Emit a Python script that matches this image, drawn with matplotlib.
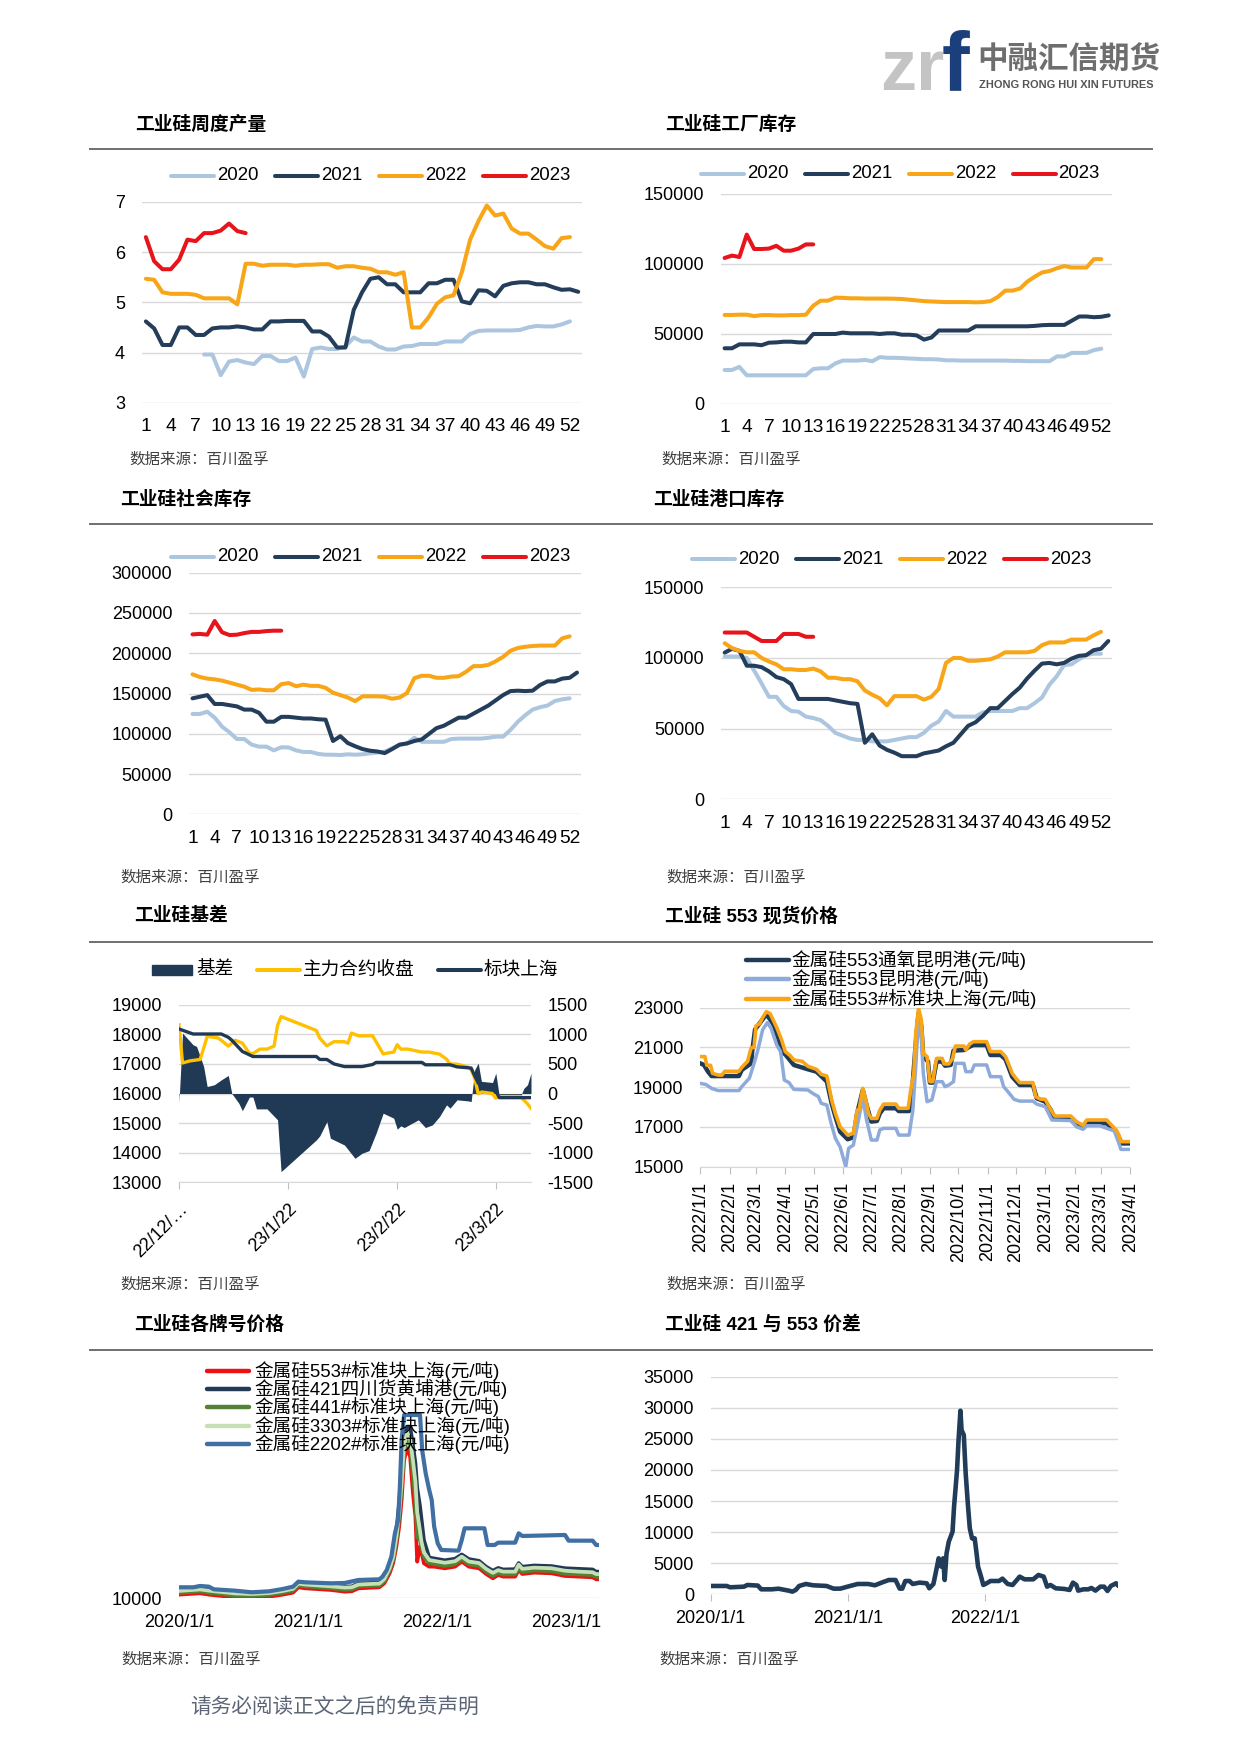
import numpy as np
import pandas as pd
import matplotlib
matplotlib.use("Agg")
import matplotlib.pyplot as plt
from matplotlib.lines import Line2D
from matplotlib.patches import Rectangle

## ---------------- data ----------------
## weekly charts: week number 1..53
weeks = list(range(1, 54))
week_ticks = list(range(1, 53, 3))
week_labels = [str(w) for w in week_ticks]

## 工业硅周度产量 (2020 starts at week 8)
prod_2020 = [3.96, 3.96, 3.55, 3.82, 3.85, 3.80, 3.77, 3.93, 3.93, 3.83,
             3.83, 3.90, 3.52, 4.07, 4.10, 4.07, 4.07, 4.12, 4.30, 4.22,
             4.22, 4.12, 4.06, 4.06, 4.12, 4.13, 4.17, 4.17, 4.17, 4.22,
             4.22, 4.22, 4.37, 4.43, 4.44, 4.44, 4.44, 4.44, 4.45, 4.50,
             4.53, 4.52, 4.52, 4.56, 4.62]
prod_2021 = [4.62, 4.48, 4.15, 4.15, 4.50, 4.50, 4.35, 4.35, 4.48, 4.50,
             4.50, 4.52, 4.50, 4.46, 4.46, 4.62, 4.62, 4.63, 4.63, 4.63,
             4.42, 4.42, 4.32, 4.10, 4.10, 4.85, 5.20, 5.47, 5.50, 5.36,
             5.36, 5.20, 5.20, 5.20, 5.38, 5.38, 5.45, 5.45, 5.02, 4.98,
             5.24, 5.23, 5.12, 5.33, 5.38, 5.40, 5.40, 5.36, 5.36, 5.30,
             5.25, 5.26, 5.21]
prod_2022 = [5.47, 5.45, 5.20, 5.17, 5.17, 5.17, 5.15, 5.08, 5.08, 5.08,
             5.08, 4.96, 5.77, 5.77, 5.73, 5.75, 5.75, 5.75, 5.73, 5.75,
             5.75, 5.76, 5.76, 5.69, 5.72, 5.72, 5.69, 5.67, 5.60, 5.60,
             5.55, 5.60, 4.50, 4.50, 4.70, 4.97, 5.10, 5.14, 5.60, 6.25,
             6.62, 6.93, 6.73, 6.77, 6.47, 6.37, 6.37, 6.25, 6.12, 6.07,
             6.28, 6.30]
prod_2023 = [6.30, 5.82, 5.66, 5.66, 5.85, 6.25, 6.22, 6.38, 6.38, 6.43,
             6.57, 6.42, 6.38]

## 工业硅工厂库存
fac_2020 = [24300, 24300, 26500, 20500, 20500, 20500, 20500, 20500, 20500, 20500,
            20500, 20500, 25000, 25500, 25500, 29000, 31000, 31000, 31000, 31500,
            30500, 33500, 33000, 33000, 32800, 32500, 32300, 32000, 32000, 31800,
            31200, 31200, 31000, 31000, 31000, 31000, 31000, 31000, 31000, 30800,
            30800, 30600, 30600, 30600, 30600, 34000, 34000, 36500, 36500, 36500,
            38500, 39500]
fac_2021 = [39800, 39800, 42600, 42600, 42600, 42000, 43800, 44000, 44500, 44500,
            44000, 44000, 50000, 50000, 50000, 50000, 51000, 50500, 50500, 50500,
            50500, 50000, 50500, 50500, 49500, 49500, 49000, 46000, 47500, 52500,
            52500, 52500, 52500, 52500, 55500, 55500, 55500, 55500, 55500, 55500,
            55500, 55500, 55800, 56300, 56500, 56500, 56500, 59500, 62500, 62500,
            62000, 62300, 63300]
fac_2022 = [63600, 63600, 63800, 63800, 62800, 63500, 63500, 63300, 63300, 63500,
            63500, 63800, 70200, 73800, 73800, 76000, 75800, 75500, 75500, 75300,
            75300, 75300, 75300, 75200, 75000, 74500, 74000, 73500, 73200, 73000,
            72800, 72800, 72800, 72800, 72600, 72800, 73500, 76500, 81000, 81000,
            82500, 87500, 91000, 94000, 95000, 97000, 98500, 97500, 97500, 97500,
            103500, 103500]
fac_2023 = [104300, 106000, 105000, 121000, 110700, 110700, 111000, 113000, 109500,
            109500, 111000, 114000, 114000]

## 工业硅社会库存
soc_2020 = [124600, 124600, 127400, 120000, 108800, 101800, 93500, 93500, 86500, 84000,
            84000, 79400, 83200, 83000, 79400, 77400, 77400, 75000, 74000, 74000,
            73600, 74500, 74000, 74500, 75700, 76600, 77800, 82000, 86000, 88000,
            95000, 90000, 90000, 90000, 90000, 93500, 94000, 94000, 94000, 94000,
            95000, 96400, 96400, 104700, 115000, 123000, 130000, 133000, 135000, 140700,
            142800, 144000]
soc_2021 = [144000, 146000, 148000, 137000, 137000, 135500, 134000, 130000, 130000, 126000,
            115000, 115000, 121000, 121000, 120000, 119000, 119000, 118000, 117500, 91000,
            97000, 88500, 84500, 81000, 79000, 78000, 76000, 81000, 86500, 88000,
            91000, 93000, 100000, 107000, 110000, 115000, 120000, 120000, 125000, 130000,
            135000, 141500, 148000, 153000, 153500, 153000, 153500, 160500, 165000, 165000,
            168500, 169500, 176000]
soc_2022 = [173800, 170500, 168500, 167500, 166000, 163500, 161000, 158500, 154500, 155000,
            154000, 154000, 161500, 163000, 159000, 161000, 159500, 159500, 157000, 151000,
            148000, 145000, 140500, 146500, 146500, 146500, 146000, 143500, 145000, 150500,
            169000, 172000, 172000, 169500, 169500, 171000, 171500, 177000, 184000, 184000,
            185500, 190000, 195500, 203000, 206500, 208000, 209000, 209500, 209500, 209500,
            218500, 221000]
soc_2023 = [223400, 224000, 223000, 240000, 226000, 222600, 223000, 225000, 226500,
            226500, 227500, 228000, 228000]

## 工业硅港口库存
port_2020 = [101000, 101000, 101000, 100000, 91000, 82000, 72500, 72500, 66000, 62500,
             62000, 58500, 57500, 56000, 52000, 47000, 45000, 43000, 42000, 42000,
             41000, 41000, 41000, 42000, 43000, 44000, 44000, 47000, 52000, 55000,
             62500, 58500, 58500, 58500, 58500, 61500, 62500, 62500, 62500, 62500,
             64500, 64500, 68000, 72000, 81000, 87000, 95000, 95500, 99000, 102000,
             103000, 103000]
port_2021 = [103800, 106500, 105000, 94500, 94500, 93500, 90500, 86500, 85000, 81500,
             71000, 71000, 71000, 71000, 71000, 70000, 69000, 68000, 67500, 40000,
             46000, 38000, 35000, 33000, 30500, 30500, 30500, 32500, 33500, 34500,
             37500, 40000, 46000, 52000, 54500, 59000, 64500, 64500, 69500, 74500,
             79000, 85500, 91000, 96000, 96500, 95500, 96500, 99500, 101500, 102000,
             105500, 106500, 112000]
port_2022 = [110400, 107000, 105000, 104000, 104000, 100000, 97500, 95500, 92000, 92000,
             91500, 91500, 92500, 90500, 86000, 86000, 85000, 85000, 83500, 77000,
             74000, 71500, 66500, 73000, 73000, 73000, 73000, 70500, 72500, 78000,
             96500, 100000, 100000, 98000, 98000, 98500, 99000, 101000, 104000, 104000,
             104000, 104000, 105000, 109000, 111000, 111000, 111000, 113000, 113000, 113000,
             116000, 118500]
port_2023 = [118000, 118000, 118000, 118000, 115000, 112000, 112000, 112000, 117000,
             117000, 117000, 115000, 115000]

## 工业硅基差: days after 2022-12-22
basis_start = '2022-12-22'
fut_days = [0, 1, 3, 6, 7, 8, 11, 12, 14, 15, 16, 18, 20, 21, 23, 25, 27, 28, 29, 39,
            40, 42, 44, 47, 48, 49, 51, 55, 58, 61, 62, 63, 65, 67, 69, 71, 74, 76, 77, 79,
            82, 83, 84, 85, 86, 89, 90, 91, 97, 99, 100]
fut_vals = [18320, 17030, 17100, 17150, 17530, 17930, 17880, 17800, 17600, 17700,
            17800, 17700, 17360, 17350, 17500, 17500, 17600, 18300, 18600, 18130,
            17870, 17610, 17750, 17750, 17700, 18040, 17950, 17950, 17340, 17400,
            17650, 17500, 17500, 17450, 17400, 17400, 17330, 17160, 17000, 16990,
            16900, 16800, 16520, 15990, 16050, 16000, 15840, 15900, 15900, 15650, 15500]
spot_days = [0, 4, 12, 14, 15, 18, 21, 39, 40, 42, 44, 47, 52, 55, 56, 69, 70, 77, 79,
             83, 84, 85, 89, 91, 100]
spot_vals = [18180, 18010, 18010, 17900, 17800, 17420, 17250, 17250, 17150, 17150,
             17000, 16910, 16910, 16980, 17050, 17050, 16970, 16970, 16900, 16860,
             16600, 16350, 16300, 15860, 15860]
basis_days = [0, 1, 4, 5, 7, 8, 10, 12, 14, 15, 17, 18, 20, 21, 22, 25, 28, 29, 39, 40,
              42, 43, 47, 50, 52, 54, 56, 58, 61, 62, 63, 64, 68, 70, 72, 74, 76, 77, 79, 82,
              83, 84, 85, 86, 89, 90, 91, 97, 98, 99, 100]
basis_vals = [-150, 1020, 823, 795, 457, 118, 147, 230, 305, 0,
              -165, -290, -60, -60, -260, -260, -445, -1320, -785, -715,
              -475, -755, -870, -1095, -1010, -965, -670, -333, -417, -603,
              -547, -575, -445, -575, -530, -390, -192, -248, -107, -124,
              -135, 400, 513, 175, 175, 344, -50, -50, 90, 147, 344]
basis_ticks = ['2022-12-22', '2023-01-22', '2023-02-22', '2023-03-22']
basis_tick_labels = ['22/12/\u2026', '23/1/22', '23/2/22', '23/3/22']

## 工业硅553现货价格: days after 2022-01-01
p553_start = '2022-01-01'
sh553_days = [0, 5, 7, 11, 13, 19, 23, 26, 41, 44, 50, 54, 57, 59, 63, 66, 70, 74, 77, 81,
              86, 90, 95, 99, 108, 114, 123, 128, 134, 139, 143, 148, 153, 156, 162, 166, 168, 172, 176, 178,
              181, 187, 190, 194, 207, 210, 220, 223, 226, 228, 231, 234, 236, 240, 243, 246, 250, 256, 258, 263,
              267, 270, 279, 281, 285, 289, 303, 307, 318, 323, 327, 330, 334, 338, 352, 355, 360, 365, 370, 375,
              392, 398, 405, 409, 430, 434, 440, 443, 445, 456]
sh553_vals = [20540, 20540, 20100, 20100, 19700, 19610, 19610, 19800, 19800, 20000,
              20300, 20990, 21000, 22080, 22200, 22500, 22800, 22700, 22400, 22000,
              21400, 20790, 20600, 20370, 20300, 20050, 19900, 19650, 19560, 18360,
              17680, 17010, 16760, 16590, 16680, 17850, 17850, 18940, 18190, 17680,
              17430, 17430, 17850, 18150, 18150, 17940, 17940, 18940, 19700, 21700,
              22970, 22380, 20700, 20540, 19280, 19280, 20450, 20450, 20170, 20170,
              20450, 21070, 21070, 20870, 21170, 21290, 21290, 20790, 20790, 20540,
              20070, 19700, 19450, 19230, 19230, 18520, 18400, 18390, 17940, 17550,
              17550, 17270, 17080, 17350, 17350, 17150, 16850, 16590, 16260, 16260]
ox553_days = [0, 4, 8, 12, 41, 44, 54, 55, 58, 70, 77, 83, 86, 90, 99, 114, 123, 128, 134, 139,
              143, 148, 156, 162, 166, 172, 176, 181, 187, 190, 194, 207, 210, 221, 224, 228, 231, 234, 236, 241,
              243, 246, 250, 256, 259, 265, 268, 279, 285, 289, 303, 307, 318, 323, 330, 338, 352, 356, 365, 371,
              375, 392, 398, 405, 409, 430, 440, 446, 456]
ox553_vals = [20200, 20120, 19800, 19560, 19560, 19870, 20200, 20800, 21900, 22670,
              22200, 21400, 20790, 20650, 20120, 19900, 19780, 19560, 19280, 18190,
              17520, 16760, 16380, 16480, 17680, 18860, 18100, 17270, 17300, 17680,
              17940, 17940, 17800, 17800, 18690, 21200, 22720, 22050, 20540, 20290,
              19230, 19230, 20290, 20290, 20080, 20120, 20840, 20870, 21040, 21120,
              21120, 20620, 20620, 20400, 19530, 19110, 19110, 18440, 18270, 17850,
              17430, 17380, 17180, 17010, 17210, 17180, 16760, 16170, 16170]
km553_days = [0, 6, 12, 19, 41, 44, 52, 57, 61, 66, 71, 75, 81, 85, 89, 94, 99, 114, 119, 125,
              128, 134, 138, 143, 148, 154, 157, 162, 166, 172, 176, 181, 187, 190, 194, 207, 210, 221, 225, 228,
              231, 234, 236, 240, 245, 250, 256, 259, 263, 268, 270, 279, 281, 287, 290, 303, 307, 318, 321, 327,
              332, 338, 352, 356, 365, 372, 392, 398, 405, 409, 423, 430, 438, 443, 445, 456]
km553_vals = [19190, 19140, 18940, 18830, 18830, 19030, 19450, 20200, 20870, 21880,
              22250, 21960, 21120, 20790, 19360, 19230, 18890, 18860, 18690, 18530,
              18190, 18100, 17270, 16430, 16000, 15000, 15920, 16090, 17010, 18440,
              17350, 16340, 16340, 16850, 16930, 16930, 16590, 16590, 17850, 20030,
              22470, 21400, 19700, 18270, 18360, 19280, 19280, 19030, 19110, 19280,
              20200, 20200, 19780, 19780, 20120, 20120, 19530, 19530, 19030, 18690,
              18390, 18300, 18300, 18150, 18020, 17350, 17320, 17010, 16880, 17060,
              17060, 16930, 16800, 16170, 15870, 15870]

## 工业硅各牌号价格: days after 2020-01-01
grade_start = '2020-01-01'
grade_days = [0, 60, 85, 158, 206, 255, 294, 323, 338, 357, 430, 469, 489, 508, 567, 581, 596, 606, 615, 623,
              630, 637, 645, 654, 662, 669, 674, 682, 686, 693, 708, 722, 752, 781, 800, 820, 849, 869, 888, 903,
              917, 951, 961, 971, 1005, 1054, 1092, 1131, 1170, 1180, 1188]
si553 = [11200, 11630, 11200, 10330, 10220, 10540, 11200, 11850, 13590, 13260,
         12720, 12170, 12280, 13260, 13590, 14890, 18150, 21410, 26850, 33370,
         42070, 55110, 59000, 56200, 44240, 36630, 21960, 26850, 25220, 21410,
         20330, 20330, 19780, 20330, 21960, 20330, 19780, 17930, 16520, 17610,
         17070, 17070, 19240, 17930, 18370, 18150, 17280, 17070, 16850, 16200, 16200]
si421 = [12700, 13200, 12800, 11900, 11700, 12000, 12700, 13400, 15100, 14800,
         14200, 13800, 13900, 14800, 15200, 16700, 20500, 24500, 32000, 41000,
         52000, 63000, 66000, 66000, 60000, 54000, 46000, 40000, 36000, 29000,
         23300, 23000, 22400, 22900, 24300, 22800, 22200, 20300, 19000, 19900,
         19400, 19500, 21500, 20300, 20700, 20500, 19800, 19600, 19400, 18700, 18700]
si441 = [11800, 12250, 11800, 10900, 10800, 11100, 11800, 12500, 14200, 13900,
         13300, 12800, 12900, 13900, 14200, 15600, 19000, 22500, 28500, 36000,
         46000, 58000, 62000, 60000, 50000, 42000, 30000, 29000, 27000, 23500,
         21500, 21200, 20600, 21100, 22700, 21100, 20600, 18700, 17300, 18300,
         17800, 17800, 19900, 18600, 19100, 18900, 18000, 17800, 17600, 17000, 17000]
si3303 = [12400, 12900, 12500, 11600, 11400, 11700, 12400, 13100, 14800, 14500,
          13900, 13500, 13600, 14500, 14800, 16300, 19800, 23500, 30000, 38000,
          48000, 60000, 64000, 62000, 55000, 48000, 38000, 32000, 28500, 25000,
          22500, 22200, 21600, 22100, 23600, 22000, 21500, 19600, 18300, 19200,
          18700, 18700, 21000, 19600, 20000, 19800, 19000, 18700, 18500, 17900, 17900]
si2202_days = [0, 41, 60, 85, 99, 158, 206, 255, 294, 323, 338, 357, 430, 469, 508, 567, 576, 588, 601, 611,
               620, 625, 630, 637, 682, 688, 698, 708, 715, 722, 732, 742, 791, 800, 808, 864, 873, 893, 903, 951,
               961, 971, 1092, 1102, 1170, 1180, 1188]
si2202 = [13590, 13590, 14020, 13800, 12930, 12500, 11960, 12280, 13040, 13800,
          15430, 15220, 14890, 15000, 15980, 16200, 17070, 19240, 23590, 31200,
          35540, 46410, 61630, 69780, 69780, 58370, 50760, 45330, 42070, 33370,
          27930, 25760, 25540, 29020, 32830, 32830, 27390, 27390, 28150, 28150,
          31200, 30330, 30650, 28800, 28800, 27390, 27390]

## 工业硅421与553价差: days after 2020-01-01
spread_days = [0, 43, 52, 89, 98, 126, 135, 163, 181, 208, 218, 227, 236, 254, 273, 309, 328, 346, 365, 392,
               420, 438, 456, 475, 493, 504, 511, 519, 530, 539, 557, 576, 583, 594, 599, 608, 615, 620, 624, 629,
               635, 645, 649, 657, 661, 666, 669, 675, 680, 686, 691, 697, 704, 709, 713, 721, 727, 736, 746, 769,
               778, 792, 805, 824, 837, 860, 874, 888, 897, 906, 920, 943, 957, 966, 975, 980, 994, 1007, 1015, 1026,
               1039, 1049, 1058, 1067, 1081, 1085]
spread_vals = [1340, 1340, 1125, 1230, 1500, 1400, 800, 800, 900, 590,
               430, 700, 1340, 1660, 1450, 1340, 910, 910, 1230, 1660,
               1660, 1450, 1880, 2300, 2300, 910, 910, 2140, 2140, 1660,
               1880, 1770, 965, 1660, 3110, 5790, 4450, 5790, 2300, 6590,
               8470, 10070, 14090, 19990, 24810, 29530, 26420, 25620, 19450, 14360,
               10610, 9000, 9000, 6590, 4450, 2840, 1500, 1770, 2140, 2140,
               2520, 1660, 1500, 2840, 2410, 2410, 3110, 2840, 1230, 1500,
               965, 860, 700, 1880, 1500, 590, 800, 800, 1020, 590,
               1230, 1230, 540, 1340, 1770, 1500]

## ---------------- style ----------------
W, H = 1241, 1755
plt.rcParams['font.family'] = ['Liberation Sans', 'Noto Sans CJK SC']
plt.rcParams['axes.unicode_minus'] = False
FS = 13.0      # tick labels
LFS = 13.4     # legend text
C20, C21, C22, C23 = '#adc6e0', '#233d5a', '#f8a518', '#e8141c'
NAVY = '#203a55'
GRID = '#d9d9d9'

fig = plt.figure(figsize=(W / 100, H / 100), dpi=100)


def fx(x):
    return x / W


def fy(y):
    return 1 - y / H


def add_ax(x0, y0, x1, y1):
    return fig.add_axes([fx(x0), fy(y1), (x1 - x0) / W, (y1 - y0) / H])


def base_style(ax, grid=True):
    for s in ax.spines.values():
        s.set_visible(False)
    if grid:
        ax.grid(axis='y', color=GRID, lw=1.0)
    ax.set_axisbelow(True)
    ax.tick_params(axis='both', length=0, labelsize=FS)
    ax.tick_params(axis='y', pad=12)
    ax.tick_params(axis='x', pad=11)
    ax.patch.set_alpha(0)


def to_dates(start, days):
    return pd.Timestamp(start) + pd.to_timedelta(np.array(days), unit='D')


def leg_line(x, y, color, label, lw=2.9):
    fig.add_artist(Line2D([fx(x), fx(x + 43)], [fy(y), fy(y)], color=color, lw=lw,
                          solid_capstyle='round', transform=fig.transFigure))
    fig.text(fx(x + 46), fy(y), label, fontsize=LFS, va='center', ha='left')


def title(x, y, s):
    fig.text(fx(x), fy(y), s, fontsize=13.5, fontweight='bold', va='center', ha='left')


def source(x, y):
    fig.text(fx(x), fy(y), '数据来源：百川盈孚', fontsize=11.2, color='#404040',
             va='center', ha='left')


## header logo
fig.text(fx(880), fy(90), 'zr', fontsize=52, fontweight='bold', color='#c4c4c4',
         family='Liberation Sans', va='baseline', ha='left')
fig.text(fx(942), fy(90), 'f', fontsize=60, fontweight='bold', color='#1b3f7a',
         family='Liberation Sans', va='baseline', ha='left')
fig.text(fx(977), fy(60), '中融汇信期货', fontsize=22, fontweight='bold', color='#6e6e6e',
         family='Noto Sans CJK SC', va='center', ha='left')
fig.text(fx(979), fy(85), 'ZHONG RONG HUI XIN FUTURES', fontsize=7.9, fontweight='bold',
         color='#555555', family='Liberation Sans', va='center', ha='left')

## separators
for ys in [149.3, 524.3, 942.3, 1350]:
    fig.add_artist(Line2D([fx(90), fx(1152)], [fy(ys), fy(ys)], color='#707070', lw=1.4,
                          transform=fig.transFigure))


def weekly_chart(rect, series, ylim, yticks, leg_x, leg_y):
    ax = add_ax(*rect)
    base_style(ax)
    for vals, start, c in series:
        ax.plot(weeks[start:start + len(vals)], vals, color=c, lw=2.9,
                solid_joinstyle='round', solid_capstyle='round')
    ax.set_xlim(0.5, 53.5)
    ax.set_ylim(*ylim)
    ax.set_yticks(yticks)
    ax.set_xticks(week_ticks)
    ax.set_xticklabels(week_labels)
    ax.tick_params(axis='x', labelsize=13.8)
    for x, (lab, c) in zip(leg_x, [('2020', C20), ('2021', C21), ('2022', C22), ('2023', C23)]):
        leg_line(x, leg_y, c, lab)
    return ax


## chart 1
title(135, 125, '工业硅周度产量')
weekly_chart((141.7, 202, 582.4, 402.7),
             [(prod_2020, 7, C20), (prod_2021, 0, C21), (prod_2022, 0, C22), (prod_2023, 0, C23)],
             (3, 7), [3, 4, 5, 6, 7], [171, 275, 379, 483], 176)
source(129.6, 459.3)

## chart 2
title(665, 125, '工业硅工厂库存')
weekly_chart((720.9, 194, 1112.4, 404),
             [(fac_2020, 0, C20), (fac_2021, 0, C21), (fac_2022, 0, C22), (fac_2023, 0, C23)],
             (0, 150000), [0, 50000, 100000, 150000], [701, 805, 909, 1012.6], 174)
source(661, 459.3)

## chart 3
title(120.3, 500, '工业硅社会库存')
weekly_chart((188.8, 572.7, 580.7, 814.3),
             [(soc_2020, 0, C20), (soc_2021, 0, C21), (soc_2022, 0, C22), (soc_2023, 0, C23)],
             (0, 300000), list(range(0, 300001, 50000)), [171, 275, 379, 483], 556.7)
source(120, 877.3)

## chart 4
title(652.7, 500, '工业硅港口库存')
weekly_chart((721, 587.3, 1112, 799.3),
             [(port_2020, 0, C20), (port_2021, 0, C21), (port_2022, 0, C22), (port_2023, 0, C23)],
             (0, 150000), [0, 50000, 100000, 150000], [692, 796, 900, 1004], 559)
source(666.5, 877.3)

## chart 5: basis
title(134, 916.7, '工业硅基差')
ax5 = add_ax(179, 1004.7, 531, 1182.3)
ax5r = ax5.twinx()
base_style(ax5, grid=False)
base_style(ax5r)
ax5r.fill_between(to_dates(basis_start, basis_days), 0, basis_vals, color=NAVY, lw=0)
ax5.plot(to_dates(basis_start, fut_days), fut_vals, color='#ffc000', lw=2.4,
         solid_joinstyle='round')
ax5.plot(to_dates(basis_start, spot_days), spot_vals, color=NAVY, lw=2.4,
         solid_joinstyle='round')
ax5.set_zorder(ax5r.get_zorder() + 1)
ax5.patch.set_visible(False)
ax5.set_ylim(13000, 19000)
ax5.set_yticks(range(13000, 19001, 1000))
ax5r.set_ylim(-1500, 1500)
ax5r.set_yticks(range(-1500, 1501, 500))
ax5r.tick_params(axis='y', pad=12)
ax5.set_xlim(pd.Timestamp('2022-12-22'), pd.Timestamp('2023-04-01'))
ax5.set_xticks(pd.to_datetime(basis_ticks))
ax5.set_xticklabels(basis_tick_labels, rotation=45, ha='right', va='top',
                    rotation_mode='anchor')
ax5.tick_params(axis='x', length=5, color='#bfbfbf', pad=8)
ax5.spines['bottom'].set_visible(True)
ax5.spines['bottom'].set_color(GRID)
fig.add_artist(Rectangle((fx(151.7), fy(975)), 40 / W, 10 / H, color=NAVY,
                         transform=fig.transFigure))
fig.text(fx(196.7), fy(970), '基差', fontsize=LFS, va='center', ha='left')
leg_line(257, 970, '#ffc000', '主力合约收盘', lw=2.9)
leg_line(438, 970, NAVY, '标块上海', lw=2.9)
source(120, 1284.3)

## chart 6: 553 spot prices
title(665, 916.7, '工业硅 553 现货价格')
ax6 = add_ax(700.2, 1007.7, 1130.3, 1166.7)
base_style(ax6)
ax6.plot(to_dates(p553_start, ox553_days), ox553_vals, color='#1f3b58', lw=3.2,
         solid_joinstyle='round')
ax6.plot(to_dates(p553_start, km553_days), km553_vals, color='#8eaadb', lw=2.5,
         solid_joinstyle='round')
ax6.plot(to_dates(p553_start, sh553_days), sh553_vals, color='#f8a518', lw=2.6,
         solid_joinstyle='round')
ax6.set_ylim(15000, 23000)
ax6.set_yticks(range(15000, 23001, 2000))
m6 = pd.date_range('2022-01-01', '2023-04-01', freq='MS')
ax6.set_xlim(m6[0], m6[-1])
ax6.set_xticks(m6)
ax6.set_xticklabels([f'{d.year}/{d.month}/1' for d in m6], rotation=90, ha='center', va='top')
ax6.tick_params(axis='x', length=5, color='#bfbfbf', pad=6)
ax6.spines['bottom'].set_visible(True)
ax6.spines['bottom'].set_color(GRID)
leg_line(745.7, 960, '#1f3b58', '金属硅553通氧昆明港(元/吨)', lw=3.2)
leg_line(745.7, 979.3, '#8eaadb', '金属硅553昆明港(元/吨)', lw=3.2)
leg_line(745.7, 999, '#f8a518', '金属硅553#标准块上海(元/吨)', lw=3.2)
source(666.5, 1284.3)

## chart 7: grades
title(134, 1325, '工业硅各牌号价格')
ax7 = add_ax(178.8, 1383.7, 599, 1598.3)
base_style(ax7)
gd = to_dates(grade_start, grade_days)
ax7.plot(gd, si553, color='#ee1111', lw=2.7, solid_joinstyle='round', zorder=2)
ax7.plot(gd, si421, color='#223a54', lw=2.7, solid_joinstyle='round', zorder=3)
ax7.plot(gd, si441, color='#548235', lw=2.7, solid_joinstyle='round', zorder=4)
ax7.plot(gd, si3303, color='#c5e0b4', lw=2.7, solid_joinstyle='round', zorder=5)
ax7.plot(to_dates(grade_start, si2202_days), si2202, color='#3f6fa3', lw=3.0,
         solid_joinstyle='round', zorder=6)
ax7.set_ylim(10000, 80000)
ax7.set_yticks([10000])
ax7.set_xlim(pd.Timestamp('2020-01-01'), pd.Timestamp('2020-01-01') + pd.Timedelta(days=1188))
y7 = pd.to_datetime(['2020-01-01', '2021-01-01', '2022-01-01', '2023-01-01'])
ax7.set_xticks(y7)
ax7.set_xticklabels([f'{d.year}/1/1' for d in y7])
for yy, c, lab in [(1370.7, '#ee1111', '金属硅553#标准块上海(元/吨)'),
                   (1389, '#223a54', '金属硅421四川货黄埔港(元/吨)'),
                   (1407.3, '#548235', '金属硅441#标准块上海(元/吨)'),
                   (1426, '#c5e0b4', '金属硅3303#标准块上海(元/吨)'),
                   (1444.3, '#3f6fa3', '金属硅2202#标准块上海(元/吨)')]:
    fig.add_artist(Line2D([fx(207), fx(249)], [fy(yy), fy(yy)], color=c, lw=3.2,
                          solid_capstyle='round', transform=fig.transFigure))
    fig.text(fx(254.6), fy(yy), lab, fontsize=LFS, va='center', ha='left')
source(121, 1659.3)

## chart 8: spread
title(665, 1325, '工业硅 421 与 553 价差')
ax8 = add_ax(710.6, 1376.7, 1117.6, 1594.3)
base_style(ax8)
ax8.plot(to_dates(grade_start, spread_days), spread_vals, color='#213c59', lw=3.3,
         solid_joinstyle='round')
ax8.set_ylim(0, 35000)
ax8.set_yticks(range(0, 35001, 5000))
ax8.set_xlim(pd.Timestamp('2020-01-01'), pd.Timestamp('2020-01-01') + pd.Timedelta(days=1085))
y8 = pd.to_datetime(['2020-01-01', '2021-01-01', '2022-01-01'])
ax8.set_xticks(y8)
ax8.set_xticklabels([f'{d.year}/1/1' for d in y8])
ax8.tick_params(axis='x', length=5, color='#bfbfbf', pad=6)
source(659.6, 1659.3)

## footer
fig.text(fx(190), fy(1707), '请务必阅读正文之后的免责声明', fontsize=14.9, color='#5b6576',
         family='Noto Sans CJK SC', fontweight='light', va='center', ha='left')

fig.savefig('out.png', dpi=100)
